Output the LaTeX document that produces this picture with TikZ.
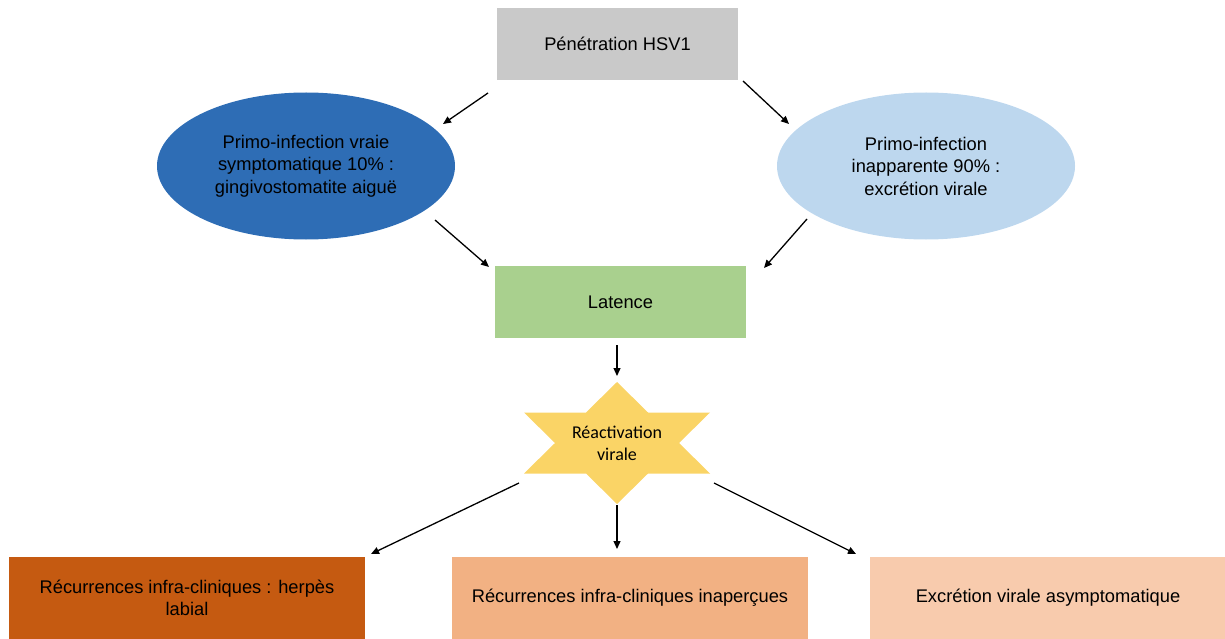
\documentclass[tikz,border=0pt]{standalone}
\usepackage{fontspec}
\setmainfont{Liberation Sans}
\newfontfamily\calibrifont{Carlito}
\usetikzlibrary{arrows.meta,shapes.geometric}
\definecolor{cgray}{HTML}{C9C9C9}
\definecolor{cdblue}{HTML}{2E6DB5}
\definecolor{clblue}{HTML}{BDD7EE}
\definecolor{cgreen}{HTML}{A9D08E}
\definecolor{cyellow}{HTML}{FAD466}
\definecolor{cdorange}{HTML}{C55A11}
\definecolor{cmorange}{HTML}{F2B183}
\definecolor{clorange}{HTML}{F8CBAD}
\tikzset{
  box/.style={rectangle, draw=none, inner sep=0pt, align=center,
    font=\fontsize{18.3}{22.5}\selectfont},
  oval/.style={ellipse, draw=none, inner sep=0pt, align=center,
    font=\fontsize{18.3}{22.5}\selectfont},
  arr/.style={-{Triangle[length=8pt,width=7pt]}, line width=1.3pt, black},
}
\begin{document}
\begin{tikzpicture}[x=1pt,y=-1pt]
\useasboundingbox (0,0) rectangle (1225,639);
% top box
\node[box, fill=cgray, minimum width=241pt, minimum height=72pt] (pen) at (617.5,44) {Pénétration HSV1};
% ellipses
\node[oval, fill=cdblue, minimum width=298pt, minimum height=147pt] (sym) at (306,166)
  {Primo-infection vraie\\symptomatique 10\% :\\gingivostomatite aiguë};
\node[oval, fill=clblue, minimum width=298pt, minimum height=147pt] (inap) at (926,166)
  {Primo-infection\\inapparente 90\% :\\excrétion virale};
% latence
\node[box, fill=cgreen, minimum width=251pt, minimum height=72pt] (lat) at (620.5,302) {Latence};
% star
\fill[cyellow] (617,382) -- (648,412.5) -- (710,412.5) -- (679,443) -- (710,473.5) -- (648,473.5)
  -- (617,504) -- (586,473.5) -- (524,473.5) -- (555,443) -- (524,412.5) -- (586,412.5) -- cycle;
\node[align=center, inner sep=0pt, font=\calibrifont\fontsize{18}{22}\selectfont] (star) at (617,443) {Réactivation\\virale};
% bottom boxes
\node[box, fill=cdorange, minimum width=356pt, minimum height=82pt] (rec1) at (187,598)
  {Récurrences infra-cliniques : herpès\\labial};
\node[box, fill=cmorange, minimum width=356pt, minimum height=82pt] (rec2) at (630,598)
  {Récurrences infra-cliniques inaperçues};
\node[box, fill=clorange, minimum width=356pt, minimum height=82pt] (exc) at (1048,598)
  {Excrétion virale asymptomatique};
% arrow endpoints
\coordinate (a1s) at (488,93);  \coordinate (a1e) at (443,124);
\coordinate (a2s) at (743,81);  \coordinate (a2e) at (789,124);
\coordinate (a3s) at (435,220); \coordinate (a3e) at (489,267);
\coordinate (a4s) at (807,219); \coordinate (a4e) at (764,268);
\coordinate (a5s) at (617,345); \coordinate (a5e) at (617,376);
\coordinate (a6s) at (519,483); \coordinate (a6e) at (371,554);
\coordinate (a7s) at (617,505); \coordinate (a7e) at (617,549);
\coordinate (a8s) at (714,483); \coordinate (a8e) at (856,554);
\draw[arr] (a1s) -- (a1e);
\draw[arr] (a2s) -- (a2e);
\draw[arr] (a3s) -- (a3e);
\draw[arr] (a4s) -- (a4e);
\draw[arr] (a5s) -- (a5e);
\draw[arr] (a6s) -- (a6e);
\draw[arr] (a7s) -- (a7e);
\draw[arr] (a8s) -- (a8e);
\end{tikzpicture}
\end{document}
